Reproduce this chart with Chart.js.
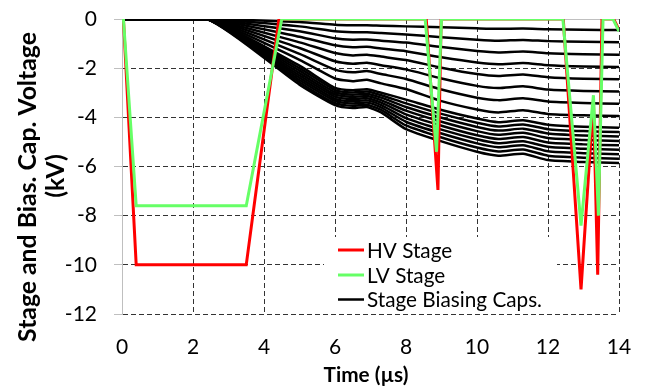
<!DOCTYPE html>
<html><head><meta charset="utf-8">
<script src="https://cdn.jsdelivr.net/npm/chart.js@4.4.1/dist/chart.umd.min.js"></script>
<style>html,body{margin:0;padding:0;background:#fff;}#wrap{width:646px;height:389px;}</style>
</head><body><div id="wrap"><canvas id="c" width="646" height="389"></canvas></div>
<script>
// ---- tick labels ----
const xTicks = [0, 2, 4, 6, 8, 10, 12, 14];
const yTicks = [0, -2, -4, -6, -8, -10, -12];
const xTitle = 'Time (µs)';
const yTitle = ['Stage and Bias. Cap. Voltage', '(kV)'];
const seriesNames = ['HV Stage', 'LV Stage', 'Stage Biasing Caps.'];

// ---- HV stage (red) ----
const hvTime = [0, 0.04, 0.4, 3.5, 4.42, 8.57, 8.9, 8.99, 12.43, 12.93, 13.28, 13.4, 13.52, 13.85, 14];
const hvVolt = [0, 0, -10, -10, 0, 0, -6.95, 0, 0, -11.0, -3.3, -10.4, 0, 0, -0.45];

// ---- LV stage (green) ----
const lvTime = [0, 0.04, 0.4, 3.5, 4.5, 8.54, 8.86, 9.0, 12.42, 12.93, 13.28, 13.42, 13.55, 13.83, 14];
const lvVolt = [0, 0, -7.6, -7.6, 0, 0, -5.4, 0, 0, -8.4, -3.1, -8.0, 0, 0, -0.5];

// ---- stage biasing capacitors (black) ----
const capTime = [0, 2.4, 5, 6, 6.5, 6.9, 7.3, 8, 9, 10, 10.6, 11.3, 12, 13, 14];
const cap01 = [0, 0, -0.12, -0.23, -0.25, -0.25, -0.27, -0.3, -0.34, -0.38, -0.4, -0.39, -0.42, -0.44, -0.45];
const cap02 = [0, 0, -0.3, -0.5, -0.54, -0.54, -0.57, -0.63, -0.74, -0.84, -0.88, -0.85, -0.9, -0.93, -0.95];
const cap03 = [0, 0, -0.5, -0.78, -0.84, -0.83, -0.88, -0.96, -1.14, -1.3, -1.36, -1.32, -1.39, -1.43, -1.45];
const cap04 = [0, 0, -0.72, -1.07, -1.15, -1.13, -1.2, -1.31, -1.56, -1.77, -1.84, -1.79, -1.88, -1.93, -1.95];
const cap05 = [0, 0, -0.95, -1.38, -1.48, -1.45, -1.53, -1.67, -1.98, -2.24, -2.32, -2.26, -2.37, -2.43, -2.45];
const cap06 = [0, 0, -1.18, -1.72, -1.82, -1.78, -1.88, -2.05, -2.42, -2.72, -2.81, -2.74, -2.87, -2.93, -2.95];
const cap07 = [0, 0, -1.42, -2.06, -2.17, -2.12, -2.24, -2.44, -2.87, -3.2, -3.3, -3.22, -3.36, -3.42, -3.45];
const cap08 = [0, 0, -1.66, -2.42, -2.53, -2.47, -2.62, -2.85, -3.34, -3.68, -3.8, -3.71, -3.86, -3.92, -3.95];
const cap09 = [0, 0, -1.9, -2.8, -2.9, -2.86, -3.0, -3.28, -3.7, -4.05, -4.2, -4.12, -4.3, -4.38, -4.42];
const cap10 = [0, 0, -2.0, -2.89, -2.99, -2.95, -3.1, -3.43, -3.86, -4.22, -4.37, -4.29, -4.48, -4.56, -4.6];
const cap11 = [0, 0, -2.1, -2.98, -3.08, -3.04, -3.2, -3.58, -4.02, -4.39, -4.54, -4.46, -4.66, -4.74, -4.78];
const cap12 = [0, 0, -2.2, -3.07, -3.17, -3.13, -3.3, -3.73, -4.18, -4.56, -4.71, -4.63, -4.84, -4.92, -4.96];
const cap13 = [0, 0, -2.3, -3.16, -3.26, -3.22, -3.4, -3.88, -4.34, -4.73, -4.88, -4.8, -5.02, -5.1, -5.14];
const cap14 = [0, 0, -2.39, -3.25, -3.35, -3.31, -3.5, -4.03, -4.5, -4.89, -5.05, -4.97, -5.2, -5.28, -5.32];
const cap15 = [0, 0, -2.48, -3.33, -3.44, -3.4, -3.6, -4.18, -4.66, -5.06, -5.22, -5.14, -5.38, -5.46, -5.5];
const cap16 = [0, 0, -2.57, -3.42, -3.53, -3.49, -3.7, -4.33, -4.82, -5.23, -5.39, -5.31, -5.56, -5.64, -5.68];
const cap17 = [0, 0, -2.67, -3.5, -3.62, -3.58, -3.8, -4.48, -4.98, -5.4, -5.56, -5.48, -5.74, -5.82, -5.86];
const capSeries = [cap01, cap02, cap03, cap04, cap05, cap06, cap07, cap08, cap09, cap10, cap11, cap12, cap13, cap14, cap15, cap16, cap17];

// ---- styles ----
const RED = '#ff0000', GREEN = '#66ff66', BLACK = '#000000';
const GRID = '#333333', AXIS = '#bfbfbf';
const FONT = 'Lato';

const pts = (xs, ys) => xs.map((x, i) => ({x: x, y: ys[i]}));

const datasets = [
  {label: seriesNames[1], data: pts(lvTime, lvVolt), borderColor: GREEN, borderWidth: 3, pointRadius: 0, tension: 0},
  {label: seriesNames[0], data: pts(hvTime, hvVolt), borderColor: RED, borderWidth: 3, pointRadius: 0, tension: 0}
];
capSeries.forEach((s, i) => datasets.push({
  label: i === 0 ? seriesNames[2] : '', data: pts(capTime, s), borderColor: BLACK, borderWidth: 2.5,
  pointRadius: 0, tension: 0.2
}));

function fitFont(ctx, text, weight, target) {
  ctx.font = weight + ' 20px ' + FONT;
  return 20 * target / ctx.measureText(text).width;
}

const decor = {
  id: 'decor',
  beforeDatasetsDraw(chart) {
    const {ctx, chartArea: a, scales: {x, y}} = chart;
    ctx.save();
    // top axis line (y = 0)
    ctx.strokeStyle = AXIS; ctx.lineWidth = 1;
    const y0 = Math.round(y.getPixelForValue(0)) + 0.5;
    ctx.beginPath(); ctx.moveTo(a.left, y0); ctx.lineTo(a.right, y0); ctx.stroke();
    // legend box
    ctx.fillStyle = '#fff';
    ctx.fillRect(324, 237, 233, 76);
    const fs = fitFont(ctx, seriesNames[2], 'normal', 175);
    ctx.font = 'normal ' + fs.toFixed(2) + 'px ' + FONT;
    ctx.textBaseline = 'middle'; ctx.textAlign = 'left'; ctx.fillStyle = '#000';
    const rows = [[seriesNames[0], RED, 250], [seriesNames[1], GREEN, 275], [seriesNames[2], BLACK, 299.5]];
    rows.forEach(r => {
      ctx.strokeStyle = r[1]; ctx.lineWidth = r[1] === BLACK ? 2.5 : 3;
      ctx.beginPath(); ctx.moveTo(338, r[2]); ctx.lineTo(364, r[2]); ctx.stroke();
      ctx.fillText(r[0], 367, r[2] + 1);
    });
    ctx.restore();
  },
  afterDraw(chart) {
    const {ctx} = chart;
    ctx.save();
    ctx.fillStyle = '#000'; ctx.textAlign = 'center'; ctx.textBaseline = 'middle';
    const fx = fitFont(ctx, xTitle, 'bold', 85);
    ctx.font = 'bold ' + fx.toFixed(2) + 'px ' + FONT;
    ctx.fillText(xTitle, 366, 375);
    const fy = fitFont(ctx, yTitle[0], 'bold', 310);
    ctx.font = 'bold ' + fy.toFixed(2) + 'px ' + FONT;
    ctx.save(); ctx.translate(28, 187); ctx.rotate(-Math.PI / 2); ctx.fillText(yTitle[0], 0, 0); ctx.restore();
    ctx.save(); ctx.translate(56, 176); ctx.rotate(-Math.PI / 2); ctx.fillText(yTitle[1], 0, 0); ctx.restore();
    ctx.restore();
  }
};

new Chart(document.getElementById('c'), {
  type: 'line',
  data: {datasets: datasets},
  options: {
    responsive: false, animation: false, devicePixelRatio: 1,
    layout: {padding: {left: 0, top: 19, right: 27, bottom: 0}},
    plugins: {legend: {display: false}, tooltip: {enabled: false}},
    scales: {
      x: {
        type: 'linear', min: 0, max: 14,
        afterBuildTicks: s => { s.ticks = xTicks.map(v => ({value: v})); },
        afterFit: s => { s.height = 75; s.paddingLeft = 0; s.paddingRight = 0; },
        grid: {color: c => (c.tick && c.tick.value === 0) ? 'rgba(0,0,0,0)' : GRID, lineWidth: 1, drawTicks: false},
        border: {display: false, dash: [5, 3]},
        ticks: {font: {family: FONT, size: 21}, color: '#000', padding: 21, maxRotation: 0, autoSkip: false}
      },
      y: {
        type: 'linear', min: -12, max: 0,
        afterBuildTicks: s => { s.ticks = yTicks.map(v => ({value: v})); },
        afterFit: s => { s.width = 122; s.paddingTop = 0; s.paddingBottom = 0; },
        grid: {color: c => (c.tick && c.tick.value === 0) ? 'rgba(0,0,0,0)' : GRID, lineWidth: 1,
               drawTicks: true, tickLength: 8, tickColor: AXIS, tickBorderDash: []},
        border: {display: true, color: AXIS, width: 1, dash: [5, 3]},
        ticks: {font: {family: FONT, size: 21}, color: '#000', padding: 17, autoSkip: false}
      }
    }
  },
  plugins: [decor]
});
</script>
</body></html>
